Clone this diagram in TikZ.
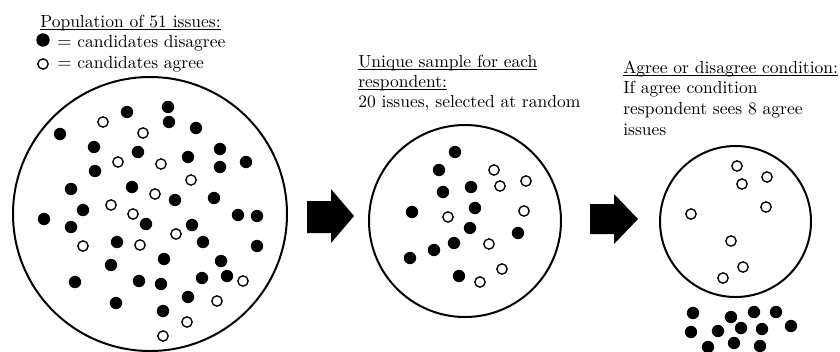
\documentclass[tikz,border=0pt]{standalone}
\usepackage{tikz}
\usetikzlibrary{shapes,positioning}

\newcommand{\headline}[1]{\underline{\smash{#1}}}

\tikzset{
  disagree/.style={circle, fill=black, inner sep=0pt, minimum size=7.4pt},
  agree/.style={circle, draw=black, line width=0.8pt, fill=white, inner sep=0pt, minimum size=6.2pt},
  pool/.style={circle, draw=black, line width=1.2pt, inner sep=0pt},
  label/.style={anchor=base west, inner sep=0pt, font=\fontsize{10.5}{12.4}\selectfont},
}

\begin{document}
\begin{tikzpicture}[x=0.6pt, y=-0.6pt]
  \clip (0,0) rectangle (840,351);

  % population
  \node[label] (pophead) at (40,27) {\headline{Population of 51 issues:}};
  \node[disagree, minimum size=8pt] (legdot1) at (43,40) {};
  \node[label] (legdis) at (57,47) {$=$ candidates disagree};
  \node[agree] (legdot2) at (43,64) {};
  \node[label] (legagr) at (57,68) {$=$ candidates agree};

  \node[pool, minimum size=164.4pt] (population) at (150,214) {};
  \foreach \x/\y in {168/107, 127/112, 169/122, 60/134, 196/128, 94/147, 138/152,
      188/157, 220/149, 246/162, 220/167, 95/171, 71/189, 132/187, 175/200,
      214/198, 83/210, 44/219, 71/227, 146/224, 192/225, 238/215, 257/216,
      117/242, 203/242, 257/246, 164/259, 111/265, 221/261, 75/282, 139/281,
      161/284, 202/278, 227/276, 116/303, 188/297, 163/311}
    \node[disagree] at (\x,\y) {};
  \foreach \x/\y in {103/122, 143/133, 118/162, 161/164, 191/180, 155/194,
      111/205, 133/214, 176/234, 83/246, 140/245, 243/281, 217/301, 187/322,
      163/336}
    \node[agree] at (\x,\y) {};

  % arrow 1
  \fill (307,201) -- (331,201) -- (331,189) -- (354,216) -- (331,243)
    -- (331,233) -- (307,233) -- cycle;

  % sample
  \node[label] (samplehead1) at (358,67) {\headline{Unique sample for each}};
  \node[label] (samplehead2) at (358,87) {\headline{respondent:}};
  \node[label] (sampletext) at (358,107) {20 issues, selected at random};

  \node[pool, minimum size=115.2pt] (sample) at (465,221) {};
  \foreach \x/\y in {455/152, 439/170, 443/192, 471/187, 412/212, 475/208,
      470/228, 518/233, 454/243, 434/250, 410/258, 459/276}
    \node[disagree] at (\x,\y) {};
  \foreach \x/\y in {494/170, 500/186, 526/181, 524/211, 448/217, 489/244,
      502/269, 480/282}
    \node[agree] at (\x,\y) {};

  % arrow 2
  \fill (590,204) -- (614,204) -- (614,194) -- (638,219) -- (614,244)
    -- (614,234) -- (590,234) -- cycle;

  % condition
  \node[label] (condhead) at (623,73) {\headline{Agree or disagree condition:}};
  \node[label] (condtext1) at (623,93) {If agree condition};
  \node[label] (condtext2) at (623,114) {respondent sees 8 agree};
  \node[label] (condtext3) at (623,135) {issues};

  \node[pool, minimum size=90.6pt] (condition) at (735.5,221.5) {};
  \foreach \x/\y in {737/166, 742/184, 767/177, 766/207, 691/214, 731/241,
      743/267, 723/278}
    \node[agree] at (\x,\y) {};
  \foreach \x/\y in {693/313, 731/317, 754/312, 776/312, 691/332, 718/331,
      741/328, 762/329, 791/326, 708/347, 734/343, 760/346}
    \node[disagree] at (\x,\y) {};
\end{tikzpicture}
\end{document}
